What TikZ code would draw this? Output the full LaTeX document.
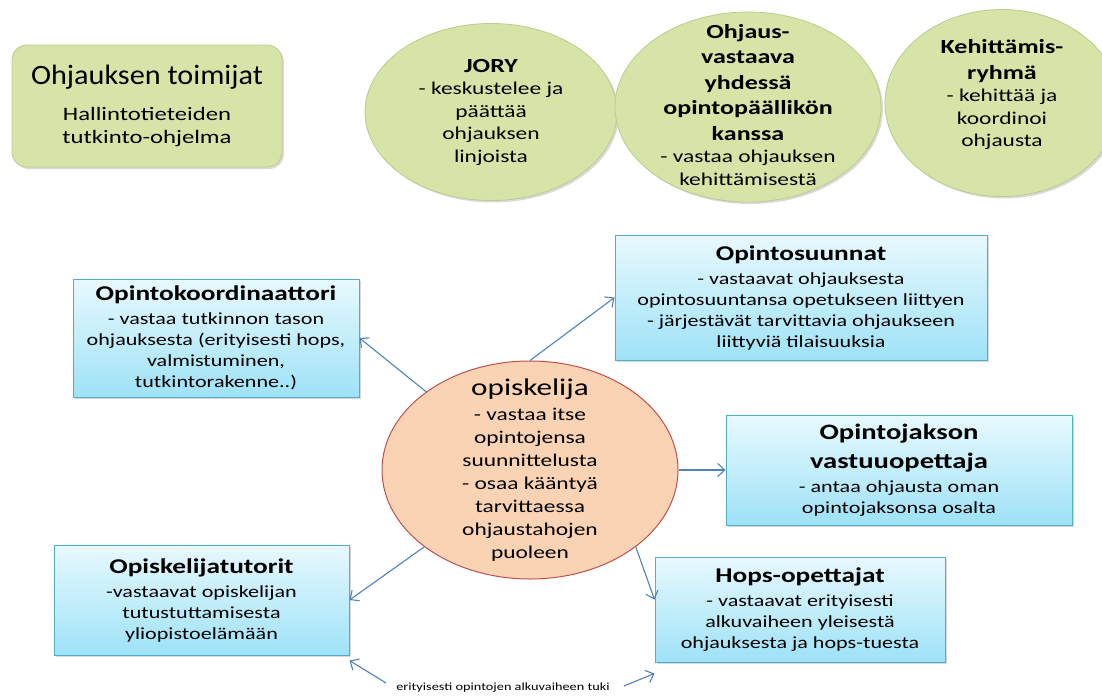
\documentclass[tikz,border=0pt]{standalone}
\usepackage{fontspec}
\setmainfont{Carlito}[FakeStretch=1.3]
\newfontfamily\headlinefont{Carlito}[FakeStretch=1.08]
\usepackage{tikz}
\usetikzlibrary{arrows.meta,positioning,shapes.geometric,shadows}
\definecolor{leafgreen}{RGB}{215,228,168}
\definecolor{leafedge}{RGB}{188,204,140}
\definecolor{skytop}{RGB}{232,249,254}
\definecolor{skybottom}{RGB}{158,226,247}
\definecolor{skyedge}{RGB}{80,175,200}
\definecolor{peach}{RGB}{250,211,180}
\definecolor{peachedge}{RGB}{192,80,77}
\definecolor{arrowblue}{RGB}{79,129,189}
\newcommand{\roletitle}{\bfseries\fontsize{21}{26}\selectfont}
\newcommand{\balltitle}{\bfseries\fontsize{20}{25}\selectfont}

\begin{document}
\begin{tikzpicture}[
    x=1pt, y=1pt,
    every node/.style={align=center, inner sep=0pt},
    softshadow/.style={drop shadow={shadow xshift=2pt, shadow yshift=-2pt, opacity=0.25, fill=black!60}},
    greenbox/.style={rectangle, rounded corners=15pt, draw=leafedge, fill=leafgreen, line width=0.8pt, font=\fontsize{19}{23.5}\selectfont, softshadow},
    greenball/.style={ellipse, draw=leafedge, fill=leafgreen, line width=0.8pt, softshadow},
    balltext/.style={font=\fontsize{18}{22.5}\selectfont},
    bluebox/.style={rectangle, draw=skyedge, top color=skytop, bottom color=skybottom, line width=1pt, font=\fontsize{17}{21}\selectfont, softshadow},
    studentell/.style={ellipse, draw=peachedge, fill=peach, line width=1pt, minimum width=296pt, minimum height=218pt},
    arr/.style={-{Straight Barb[length=7pt,width=13pt]}, line width=1.1pt, draw=arrowblue}
]
\useasboundingbox (0,0) rectangle (1102,-696);

% Top row: who guides
\node[greenbox, minimum width=270pt, minimum height=122pt] (toimijat) at (147,-106)
    {{\headlinefont\fontsize{28}{32}\selectfont Ohjauksen toimijat}\\[12pt]
     Hallintotieteiden\\ tutkinto-ohjelma};
\node[greenball, minimum width=252pt, minimum height=177pt] (jory) at (491,-112) {};
\node[balltext] (jorytext) at (jory) {{\balltitle JORY}\\ - keskustelee ja\\ päättää\\ ohjauksen\\ linjoista};
\node[greenball, minimum width=266pt, minimum height=190pt] (vastaava) at (748,-107) {};
\node[balltext] (vastaavatext) at (748,-105) {{\balltitle Ohjaus-}\\[3pt] {\balltitle vastaava}\\[3pt] {\balltitle yhdessä}\\[3pt]
    {\balltitle opintopäällikön}\\[3pt] {\balltitle kanssa}\\ - vastaa ohjauksen\\ kehittämisestä};
\node[greenball, minimum width=234pt, minimum height=187pt] (kehitys) at (1002,-103) {};
\node[balltext] (kehitystext) at (1002,-95) {{\balltitle Kehittämis-}\\[3pt] {\balltitle ryhmä}\\ - kehittää ja\\ koordinoi\\ ohjausta};

% Student in the middle
\node[studentell] (opiskelija) at (530,-470) {};
\node[font=\fontsize{18}{23}\selectfont] (opiskelijatext) at (opiskelija)
    {{\fontsize{24}{28}\selectfont opiskelija}\\[2pt] - vastaa itse\\ opintojensa\\ suunnittelusta\\ - osaa kääntyä\\ tarvittaessa\\ ohjaustahojen\\ puoleen};

% Roles around the student
\node[bluebox, minimum width=286pt, minimum height=118pt] (koordinaattori) at (216,-338)
    {{\roletitle Opintokoordinaattori}\\[3pt] - vastaa tutkinnon tason\\ ohjauksesta (erityisesti hops,\\ valmistuminen,\\ tutkintorakenne..)};
\node[bluebox, minimum width=372pt, minimum height=125pt] (suunnat) at (801,-297.5)
    {{\roletitle Opintosuunnat}\\[3pt] - vastaavat ohjauksesta\\ opintosuuntansa opetukseen liittyen\\ - järjestävät tarvittavia ohjaukseen\\ liittyviä tilaisuuksia};
\node[bluebox, minimum width=346pt, minimum height=110pt, right=47pt of opiskelija] (jakso)
    {{\bfseries\fontsize{22}{27}\selectfont Opintojakson}\\[8pt] {\bfseries\fontsize{22}{27}\selectfont vastuuopettaja}\\[3pt] - antaa ohjausta oman\\ opintojaksonsa osalta};
\node[bluebox, minimum width=295pt, minimum height=110pt] (tutorit) at (201.5,-600)
    {{\roletitle Opiskelijatutorit}\\[3pt] -vastaavat opiskelijan\\ tutustuttamisesta\\ yliopistoelämään};
\node[bluebox, minimum width=290pt, minimum height=105pt] (hops) at (800,-609.5)
    {{\roletitle Hops-opettajat}\\[3pt] - vastaavat erityisesti\\ alkuvaiheen yleisestä\\ ohjauksesta ja hops-tuesta};
\node[font=\fontsize{11}{13}\selectfont] (tuki) at (503,-688) {erityisesti opintojen alkuvaiheen tuki};

% Connections
\draw[arr] (opiskelija.143) -- (koordinaattori.east);
\draw[arr] (opiskelija.north) -- (suunnat.west);
\draw[arr] (opiskelija) -- (jakso);
\draw[arr] (opiskelija.216) -- (tutorit.east);
\draw[arr] (opiskelija.324) -- ([yshift=10pt]hops.west);
\draw[arr] ([xshift=-10pt,yshift=5pt]tuki.west) -- ([yshift=-5pt]tutorit.south east);
\draw[arr] ([xshift=14pt,yshift=2pt]tuki.east) -- ([yshift=-11pt]hops.south west);

\end{tikzpicture}
\end{document}
